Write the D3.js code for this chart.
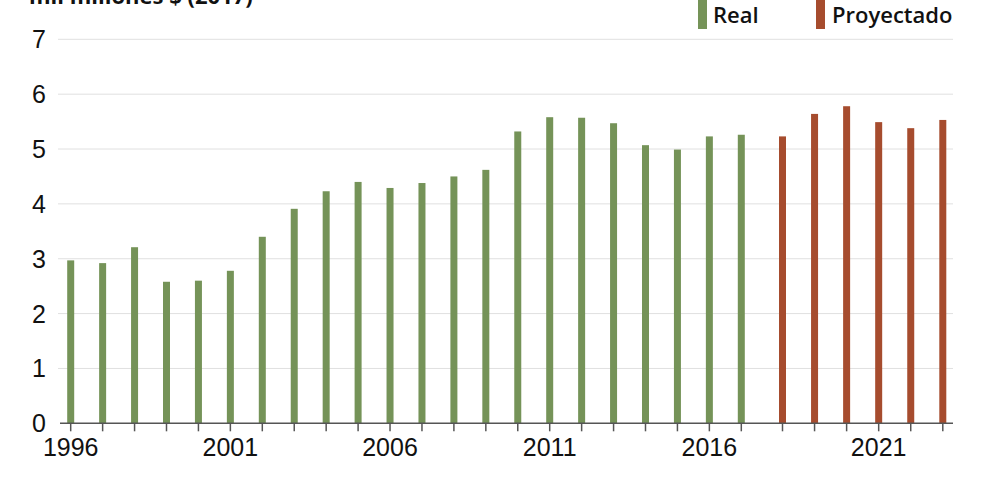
<!DOCTYPE html>
<html><head><meta charset="utf-8">
<script src="https://cdn.jsdelivr.net/npm/d3@7"></script>
<style>body{margin:0;background:#fff}svg{display:block}</style>
</head><body>
<svg id="chart" width="1000" height="500"></svg>
<script>
const realYears = [1996,1997,1998,1999,2000,2001,2002,2003,2004,2005,2006,2007,2008,2009,2010,2011,2012,2013,2014,2015,2016,2017];
const realValues = [2.97,2.92,3.21,2.58,2.60,2.78,3.40,3.91,4.23,4.40,4.29,4.38,4.50,4.62,5.32,5.58,5.57,5.47,5.07,4.99,5.23,5.26];
const projYears = [2018,2019,2020,2021,2022,2023];
const projValues = [5.23,5.64,5.78,5.49,5.38,5.53];
const yTicks = [0,1,2,3,4,5,6,7];
const xTickLabels = [1996,2001,2006,2011,2016,2021];
const titleText = "mil millones $ (2017)";
const legendLabels = ["Real","Proyectado"];

const svg = d3.select("#chart");
const green = "#759358", red = "#a64c2e";

const y = d3.scaleLinear().domain([0,7]).range([423.3,39.3]);
const x = d3.scaleLinear().domain([1996,2017,2018,2023]).range([70.7,741.3,782.5,942.8]);

// gridlines
svg.append("g").selectAll("line").data(yTicks.filter(d=>d>0)).join("line")
  .attr("x1",58).attr("x2",953).attr("y1",d=>y(d)).attr("y2",d=>y(d))
  .attr("stroke","#e0e0e0").attr("stroke-width",1);

// y labels
svg.append("g").selectAll("text").data(yTicks).join("text")
  .attr("x",46).attr("y",d=>y(d)).attr("dy","0.36em")
  .attr("text-anchor","end").attr("font-family","Liberation Sans, Arial, sans-serif")
  .attr("font-size",25).attr("fill","#111").text(d=>d);

const bw = 7;
svg.append("g").selectAll("rect").data(realYears.map((yr,i)=>({yr,v:realValues[i]}))).join("rect")
  .attr("x",d=>x(d.yr)-bw/2).attr("width",bw).attr("y",d=>y(d.v)).attr("height",d=>y(0)-y(d.v))
  .attr("fill",green);
svg.append("g").selectAll("rect").data(projYears.map((yr,i)=>({yr,v:projValues[i]}))).join("rect")
  .attr("x",d=>x(d.yr)-bw/2).attr("width",bw).attr("y",d=>y(d.v)).attr("height",d=>y(0)-y(d.v))
  .attr("fill",red);

// x axis
const allYears = realYears.concat(projYears);
svg.append("line").attr("x1",60).attr("x2",953).attr("y1",y(0)).attr("y2",y(0))
  .attr("stroke","#555").attr("stroke-width",1.5);
svg.append("g").selectAll("line").data(allYears).join("line")
  .attr("x1",d=>x(d)).attr("x2",d=>x(d)).attr("y1",y(0)).attr("y2",y(0)+8)
  .attr("stroke","#555").attr("stroke-width",1.5);
svg.append("g").selectAll("text").data(xTickLabels).join("text")
  .attr("x",d=>x(d)).attr("y",456).attr("text-anchor","middle")
  .attr("font-family","Liberation Sans, Arial, sans-serif").attr("font-size",25).attr("fill","#111")
  .text(d=>d);

// title (cut at top edge, as in the reference)
svg.append("text").attr("x",29).attr("y",4).attr("font-family","Open Sans, sans-serif")
  .attr("font-weight",700).attr("font-size",22).attr("fill","#111").text(titleText);

// legend
const leg = [{label:legendLabels[0],c:green,rx:698,tx:713},{label:legendLabels[1],c:red,rx:816,tx:832}];
leg.forEach(l=>{
  svg.append("rect").attr("x",l.rx).attr("y",0).attr("width",9).attr("height",29).attr("fill",l.c);
  svg.append("text").attr("x",l.tx).attr("y",23).attr("font-family","Open Sans, sans-serif")
    .attr("font-weight",600).attr("font-size",22).attr("fill","#111").text(l.label);
});
</script>
</body></html>
